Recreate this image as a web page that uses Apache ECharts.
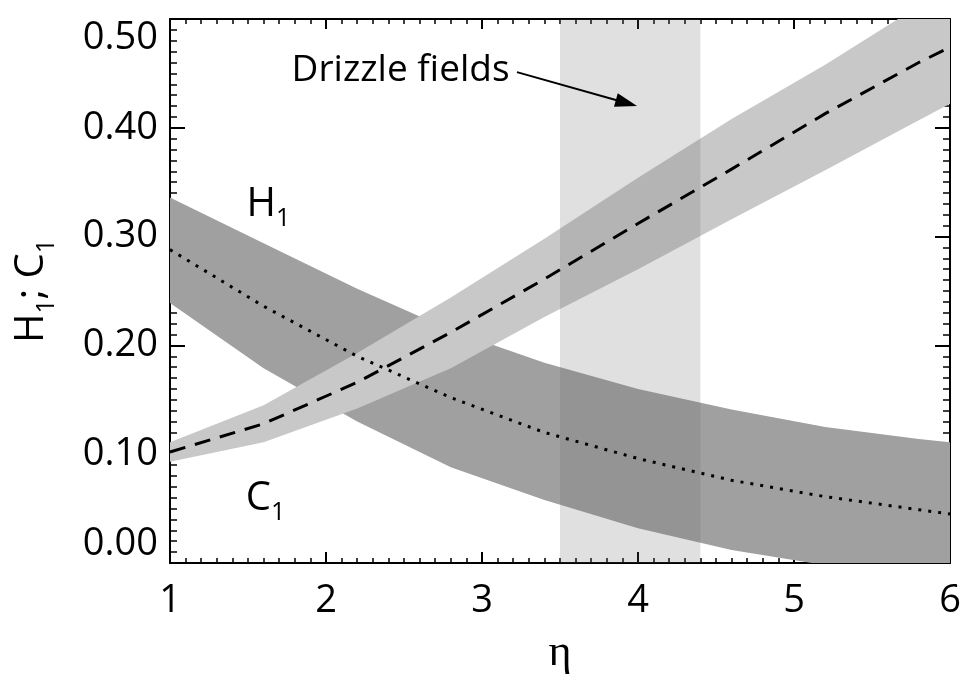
<!DOCTYPE html>
<html><head><meta charset="utf-8">
<script src="https://cdn.jsdelivr.net/npm/echarts@6/dist/echarts.min.js"></script>
<style>html,body{margin:0;padding:0;background:#fff}#c{width:966px;height:682px}</style>
</head><body><div id="c"></div>
<script>
// eta grid
const eta = [1, 1.6, 2.2, 2.8, 3.4, 4.0, 4.6, 5.2, 5.8, 6.0];
// decreasing band (H1) and its central dotted curve
const hUpper = [0.336, 0.294, 0.252, 0.214, 0.184, 0.160, 0.141, 0.125, 0.114, 0.111];
const hLower = [0.239, 0.179, 0.130, 0.088, 0.058, 0.032, 0.012, -0.002, -0.012, -0.015];
const hMean  = [0.288, 0.236, 0.190, 0.152, 0.120, 0.096, 0.076, 0.061, 0.049, 0.045];
// increasing band (C1) and its central dashed curve
const cUpper = [0.111, 0.145, 0.193, 0.244, 0.298, 0.354, 0.408, 0.458, 0.512, 0.528];
const cLower = [0.093, 0.111, 0.142, 0.179, 0.226, 0.270, 0.316, 0.361, 0.407, 0.422];
const cMean  = [0.102, 0.128, 0.166, 0.212, 0.261, 0.312, 0.362, 0.413, 0.460, 0.474];
// drizzle region
const drizzle = [3.5, 4.4];
// annotations
const noteText = ['{a|H}{b|1}', '{a|C}{b|1}', 'Drizzle fields'];
const noteX = [1.630, 1.612, 2.478];
const noteY = [0.3296, 0.0592, 0.4526];
const arrowFrom = [3.224, 0.4512];
const arrowTo = [3.926, 0.4228];
// axes
const xMin = 1, xMax = 6, xStep = 1;
const yMin = 0, yMax = 0.5, yStep = 0.1;

const FONT = 'Open Sans';
const chart = echarts.init(document.getElementById('c'), null, {renderer: 'canvas'});

function bandItem(upper, lower, color) {
  return function (params, api) {
    if (params.dataIndex !== 0) return null;
    const pts = [];
    for (let i = 0; i < eta.length; i++) pts.push(api.coord([eta[i], upper[i]]));
    for (let i = eta.length - 1; i >= 0; i--) pts.push(api.coord([eta[i], lower[i]]));
    return {type: 'polygon', shape: {points: pts}, style: {fill: color, stroke: null}};
  };
}
function pairs(ys) { return eta.map((x, i) => [x, ys[i]]); }

const axisCommon = {
  type: 'value',
  splitLine: {show: false},
  axisLine: {show: true, onZero: false, lineStyle: {color: '#000', width: 2}},
};

const option = {
  animation: false,
  backgroundColor: '#fff',
  grid: {left: 170, right: 16, top: 19, bottom: 119, containLabel: false},
  xAxis: [
    Object.assign({}, axisCommon, {
      min: xMin, max: xMax, interval: xStep, position: 'bottom',
      axisTick: {show: true, inside: true, length: 11, lineStyle: {color: '#000', width: 2}},
      minorTick: {show: true, splitNumber: 10, length: 5, lineStyle: {color: '#000', width: 1.5}},
      axisLabel: {show: true, color: '#000', fontFamily: FONT, fontSize: 38, margin: 19},
      name: 'η', nameLocation: 'middle', nameGap: 68,
      nameTextStyle: {color: '#000', fontFamily: 'Liberation Serif', fontSize: 44}
    }),
    Object.assign({}, axisCommon, {
      min: xMin, max: xMax, interval: xStep, position: 'top',
      axisTick: {show: true, inside: true, length: 10, lineStyle: {color: '#000', width: 2}},
      minorTick: {show: true, splitNumber: 10, length: 5, lineStyle: {color: '#000', width: 1.5}},
      axisLabel: {show: false}
    })
  ],
  yAxis: [
    Object.assign({}, axisCommon, {
      min: yMin, max: yMax, interval: yStep, position: 'left',
      axisTick: {show: true, inside: true, length: 15, lineStyle: {color: '#000', width: 2}},
      minorTick: {show: true, splitNumber: 10, length: 7, lineStyle: {color: '#000', width: 1.5}},
      axisLabel: {show: true, color: '#000', fontFamily: FONT, fontSize: 38, margin: 12,
        formatter: v => v.toFixed(2),
        verticalAlignMinLabel: 'bottom', verticalAlignMaxLabel: 'top'},
      name: '{a|H}{b|1}{a|; C}{b|1}', nameLocation: 'middle', nameGap: 118, nameRotate: 90,
      nameTextStyle: {color: '#000', fontFamily: FONT, fontSize: 40,
        rich: {
          a: {fontFamily: FONT, fontSize: 40, lineHeight: 40, verticalAlign: 'top', color: '#000'},
          b: {fontFamily: FONT, fontSize: 25, lineHeight: 26, verticalAlign: 'top', padding: [22, 0, 0, 0], color: '#000'}
        }}
    }),
    Object.assign({}, axisCommon, {
      min: yMin, max: yMax, interval: yStep, position: 'right',
      axisTick: {show: true, inside: true, length: 15, lineStyle: {color: '#000', width: 2}},
      minorTick: {show: true, splitNumber: 10, length: 7, lineStyle: {color: '#000', width: 1.5}},
      axisLabel: {show: false}
    })
  ],
  series: [
    {type: 'custom', name: 'H1 band', clip: true, z: 2, silent: true,
      data: [[eta[0], hUpper[0]]], renderItem: bandItem(hUpper, hLower, '#a0a0a0')},
    {type: 'custom', name: 'C1 band', clip: true, z: 2, silent: true,
      data: [[eta[0], cUpper[0]]], renderItem: bandItem(cUpper, cLower, '#c8c8c8')},
    {type: 'custom', name: 'Drizzle', clip: true, z: 3, silent: true,
      data: [[drizzle[0], yMax]],
      renderItem: function (params, api) {
        const p0 = api.coord([drizzle[0], yMax]);
        const p1 = api.coord([drizzle[1], yMin]);
        return {type: 'rect', shape: {x: p0[0], y: p0[1], width: p1[0] - p0[0], height: p1[1] - p0[1]},
          style: {fill: 'rgba(100,100,100,0.2)'}};
      }},
    {type: 'line', name: 'H1', z: 4, data: pairs(hMean), showSymbol: false, silent: true,
      lineStyle: {color: '#000', width: 3, type: [3, 7], cap: 'butt'}},
    {type: 'line', name: 'C1', z: 4, data: pairs(cMean), showSymbol: false, silent: true,
      lineStyle: {color: '#000', width: 3, type: [16, 10], cap: 'butt'},
      markLine: {silent: true, symbol: ['none', 'triangle'], symbolSize: [14, 22],
        label: {show: false}, lineStyle: {color: '#000', width: 2, type: 'solid'},
        data: [[{coord: arrowFrom}, {coord: arrowTo}]]}},
    {type: 'custom', name: 'notes', clip: false, z: 5, silent: true,
      data: noteText.map((t, i) => [noteX[i], noteY[i]]),
      renderItem: function (params, api) {
        const i = params.dataIndex;
        const p = api.coord([noteX[i], noteY[i]]);
        const isSmall = i === 2;
        return {type: 'text', x: p[0], y: p[1], style: {
          text: noteText[i], fill: '#000', align: 'center', verticalAlign: 'middle',
          fontFamily: FONT, fontSize: isSmall ? 37 : 40,
          rich: {
            a: {fontFamily: FONT, fontSize: 40, lineHeight: 40, verticalAlign: 'top', fill: '#000'},
            b: {fontFamily: FONT, fontSize: 25, lineHeight: 26, verticalAlign: 'top', padding: [22, 0, 0, 0], fill: '#000'}
          }}};
      }}
  ]
};
chart.setOption(option);
</script></body></html>
